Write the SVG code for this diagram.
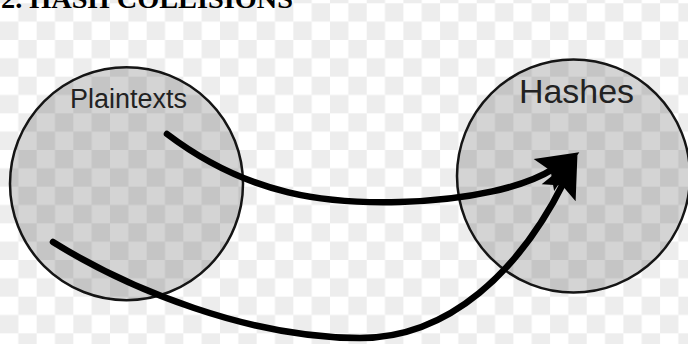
<svg xmlns="http://www.w3.org/2000/svg" width="688" height="344" viewBox="0 0 688 344">
  <style>
    .circle { fill: #000; fill-opacity: 0.17; stroke: #151515; stroke-width: 2.5; }
    .label { font-family: "Liberation Sans", Arial, sans-serif; fill: #222; }
    .title { font-family: "Liberation Serif", "Times New Roman", serif; font-weight: bold; fill: #000; }
    .arrow { fill: none; stroke: #000; stroke-width: 6.5; stroke-linecap: round; }
  </style>
  <defs>
    <pattern id="checker" patternUnits="userSpaceOnUse" x="0" y="3.3" width="36.67" height="36.67">
      <rect x="0" y="0" width="36.67" height="36.67" fill="#ffffff"/>
      <rect x="18.33" y="0" width="18.34" height="18.33" fill="#ededed"/>
      <rect x="0" y="18.33" width="18.33" height="18.34" fill="#ededed"/>
    </pattern>
    <marker id="head" markerUnits="userSpaceOnUse" viewBox="-14 -21 46 42" refX="0" refY="0" markerWidth="46" markerHeight="42" orient="auto" overflow="visible">
      <path d="M-12,-19 L30,0 L-12,19 L-4,0 Z" fill="#000"/>
    </marker>
  </defs>
  <rect x="0" y="0" width="688" height="344" fill="url(#checker)"/>
  <text class="title" x="1" y="8" font-size="28" textLength="292" lengthAdjust="spacingAndGlyphs">2. HASH COLLISIONS</text>
  <g id="plaintexts">
    <circle class="circle" cx="126.5" cy="183.7" r="116.5"/>
    <text class="label" x="70" y="108" font-size="27" textLength="117" lengthAdjust="spacingAndGlyphs">Plaintexts</text>
  </g>
  <g id="hashes">
    <circle class="circle" cx="573.5" cy="176" r="116.5"/>
    <text class="label" x="519" y="103" font-size="34" textLength="115" lengthAdjust="spacingAndGlyphs">Hashes</text>
  </g>
  <g id="connectors">
    <path class="arrow" d="M167,134 C250,197 330,204 400,202 C470,200 525,187 554,168.5" marker-end="url(#head)"/>
    <path class="arrow" d="M53,242 C130,290 250,338 360,338 C450,338 520,270 564,182" marker-end="url(#head)"/>
  </g>
</svg>
